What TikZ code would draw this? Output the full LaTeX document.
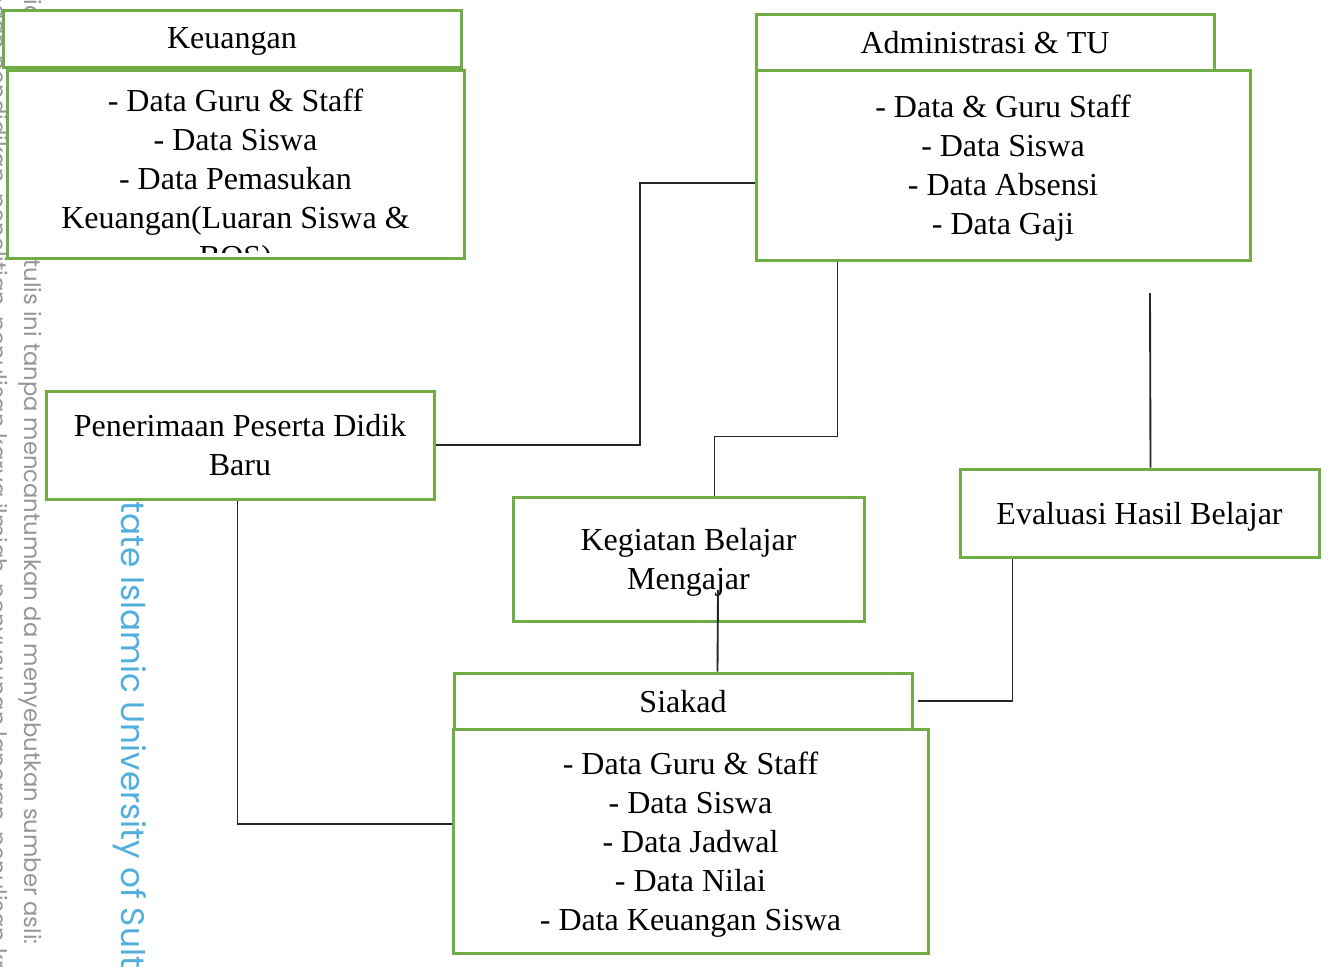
\documentclass[tikz,border=0pt]{standalone}
\usepackage{fontspec}
\setmainfont{Liberation Serif}
\newfontfamily\wmfont{Poppins}
\usetikzlibrary{calc}
\definecolor{boxgreen}{RGB}{112,173,71}
\definecolor{wmgrey}{RGB}{150,150,150}
\definecolor{wmblue}{RGB}{80,175,220}

\begin{document}
\begin{tikzpicture}[x=0.75pt,y=-0.75pt,
  box/.style={draw=boxgreen, line width=2.25pt, fill=white, inner sep=0pt,
    align=center, text depth=0pt, font=\fontsize{24}{29.25}\selectfont},
  boxtext/.style={inner sep=0pt, align=center, font=\fontsize{24}{29.25}\selectfont},
  conn/.style={draw=black!85, line width=1.4pt},
  wm/.style={rotate=-90, inner sep=0pt, text=wmgrey,
    font=\wmfont\fontsize{17}{20}\selectfont}]

\useasboundingbox (0,0) rectangle (1328,967);
\clip (0,0) rectangle (1328,967);
\fill[white] (0,0) rectangle (1328,967);

% page watermark behind the chart
\node[wm, anchor=east] (wmedge) at (-4,1000)
  {kepentingan pendidikan, penelitian, penulisan karya ilmiah, penyusunan laporan, penulisan kritik};
\node[wm, anchor=east] (wmnote) at (30,945)
  {Dilarang mengutip sebagian atau seluruh karya tulis ini tanpa mencantumkan da menyebutkan sumber asli:};
\node[wm, anchor=west, text=wmblue, font=\wmfont\fontsize{24.5}{28}\selectfont] (wmuni) at (130,482)
  {State Islamic University of Sultan Syarif Kasim Riau};

% Keuangan
\node[box, minimum width=458*0.75pt, minimum height=57*0.75pt] (kh) at (232,38.5) {Keuangan};
\node[box, minimum width=457*0.75pt, minimum height=188*0.75pt] (kb) at (235.5,164) {};
\begin{scope}
  \clip (kb.north west) rectangle ($(kb.south east)+(0,-7)$);
  \node[boxtext, anchor=north] (kbt) at (235.5,89)
    {- Data Guru \& Staff\\- Data Siswa\\- Data Pemasukan\\Keuangan(Luaran Siswa \&\\BOS)};
\end{scope}

% Administrasi & TU
\node[box, minimum width=458*0.75pt, minimum height=56*0.75pt] (ah) at (985,42) {Administrasi \& TU};
\node[box, minimum width=494*0.75pt, minimum height=190*0.75pt] (ab) at (1003,165)
  {- Data \& Guru Staff\\- Data Siswa\\- Data Absensi\\- Data Gaji};

% process boxes
\node[box, minimum width=388*0.75pt, minimum height=108*0.75pt] (pp) at (240,445)
  {Penerimaan Peserta Didik\\Baru};
\node[box, minimum width=351*0.75pt, minimum height=124*0.75pt] (kbm) at (688.5,559)
  {Kegiatan Belajar\\Mengajar};
\node[box, minimum width=359*0.75pt, minimum height=88*0.75pt] (ev) at (1139.5,513)
  {Evaluasi Hasil Belajar};

% Siakad
\node[box, minimum width=458*0.75pt, minimum height=56*0.75pt] (sh) at (683,701) {Siakad};
\node[box, minimum width=475*0.75pt, minimum height=224*0.75pt] (sb) at (690.5,841)
  {- Data Guru \& Staff\\- Data Siswa\\- Data Jadwal\\- Data Nilai\\- Data Keuangan Siswa};

% connectors
\coordinate (evfree) at (1150,293);
\coordinate (kbmin) at (718,590);

\draw[conn] (pp.east) -| (640,183) -- ($(ab.west)+(0,18)$);
\draw[conn] ($(ab.south west)+(83,0)$) -- ++(0,175) -| ($(kbm.north west)+(203,0)$);
\draw[conn] (evfree) -- ($(ev.north west)+(192,0)$);
\draw[conn] (kbmin) -- ($(sh.north west)+(265,0)$);
\draw[conn] ($(ev.south west)+(54,0)$) |- ($(sh.east)+(4,0)$);
\draw[conn] ($(pp.south west)+(193,0)$) |- ($(sb.west)+(0,-17)$);
\end{tikzpicture}
\end{document}
